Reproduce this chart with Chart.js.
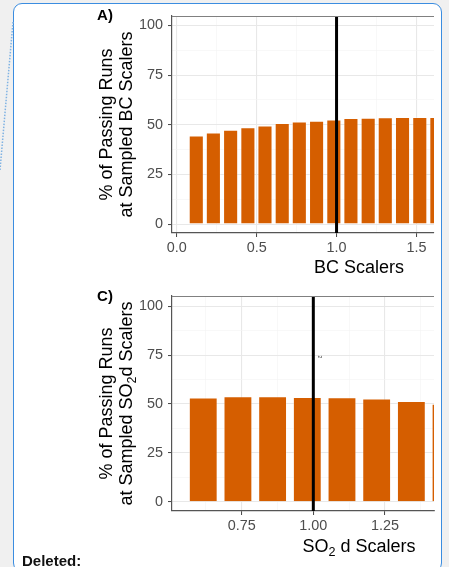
<!DOCTYPE html>
<html>
<head>
<meta charset="utf-8">
<script src="https://cdn.jsdelivr.net/npm/chart.js@4.4.1/dist/chart.umd.min.js"></script>
<style>
  html, body { margin: 0; padding: 0; width: 449px; height: 567px; overflow: hidden; background: #f0f0f0; }
  #frame { position: absolute; left: 13px; top: 3px; width: 429px; height: 569px; box-sizing: border-box;
           background: #fff; border: 1.5px solid #3b8de0; border-radius: 9px; }
  #dots { position: absolute; left: 0; top: 0; }
  canvas { position: absolute; left: 0; }
  #chartA { top: 0; }
  #chartC { top: 280px; }
  #deleted { position: absolute; left: 22px; top: 552px; font: bold 15px "Liberation Sans", Arial, sans-serif; color: #111; }
</style>
</head>
<body>
<div id="frame"></div>
<svg id="dots" width="449" height="567"><line x1="13" y1="22" x2="0" y2="170" stroke="#7fb2e3" stroke-width="1.5" stroke-dasharray="1.5 1.5"/></svg>
<canvas id="chartA" width="449" height="280"></canvas>
<canvas id="chartC" width="449" height="287"></canvas>
<div id="deleted">Deleted:</div>
<script>
// panel A - BC scalers
var bcScalers = [0.122, 0.229, 0.337, 0.445, 0.552, 0.660, 0.767, 0.875, 0.983, 1.090, 1.198, 1.305, 1.413, 1.521, 1.628];
var bcPassing = [44.5, 46.0, 47.4, 48.7, 49.6, 50.8, 51.6, 51.9, 52.6, 53.3, 53.5, 53.7, 53.8, 53.8, 53.8];
var bcTicks = [0, 0.5, 1, 1.5];
var bcTickLabels = ['0.0', '0.5', '1.0', '1.5'];

// panel C - SO2 d scalers
var so2Scalers = [0.616, 0.737, 0.858, 0.979, 1.100, 1.221, 1.342, 1.463];
var so2Passing = [53.2, 53.9, 53.9, 53.5, 53.4, 52.7, 51.5, 50.0];
var so2Ticks = [0.75, 1, 1.25];
var so2TickLabels = ['0.75', '1.00', '1.25'];

var pctTicks = [0, 25, 50, 75, 100];
var pctTickLabels = ['0', '25', '50', '75', '100'];
var defaultScaler = 1.0;

var FONT = '"Liberation Sans", Arial, Helvetica, sans-serif';
var BAR = '#D55E00';

function isMajor(v, list) {
    return list.some(function (t) { return Math.abs(t - v) < 1e-9; });
}
function labelFor(v, list, labels) {
    for (var i = 0; i < list.length; i++) {
        if (Math.abs(list[i] - v) < 1e-9) return labels[i];
    }
    return '';
}

// text with _{sub} parts, centred at (x,y), optionally rotated
function drawRich(ctx, str, x, y, rot, size) {
    var parts = str.split(/_\{(.*?)\}/);
    ctx.save();
    ctx.translate(x, y);
    ctx.rotate(rot);
    ctx.textBaseline = 'middle';
    ctx.textAlign = 'left';
    var total = 0, widths = [];
    parts.forEach(function (p, i) {
        ctx.font = (i % 2 ? size * 0.7 : size) + 'px ' + FONT;
        widths[i] = ctx.measureText(p).width;
        total += widths[i];
    });
    var cx = -total / 2;
    parts.forEach(function (p, i) {
        ctx.font = (i % 2 ? size * 0.7 : size) + 'px ' + FONT;
        ctx.fillText(p, cx, i % 2 ? size * 0.3 : 0);
        cx += widths[i];
    });
    ctx.restore();
}

var panelDecor = {
    id: 'panelDecor',
    afterDatasetsDraw: function (chart, args, opts) {
        var ctx = chart.ctx, a = chart.chartArea;
        var px = chart.scales.x.getPixelForValue(defaultScaler);
        ctx.save();
        ctx.strokeStyle = '#000';
        ctx.lineWidth = 3;
        ctx.beginPath();
        ctx.moveTo(px, a.top);
        ctx.lineTo(px, a.bottom);
        ctx.stroke();
        ctx.strokeStyle = '#808080';
        ctx.lineWidth = 1.2;
        ctx.beginPath();
        ctx.moveTo(a.left, a.top + 0.5);
        ctx.lineTo(a.right, a.top + 0.5);
        ctx.stroke();
        ctx.restore();
    },
    afterDraw: function (chart, args, opts) {
        var ctx = chart.ctx, a = chart.chartArea;
        var mid = (a.top + a.bottom) / 2;
        ctx.save();
        ctx.fillStyle = '#000';
        ctx.font = 'bold 15px ' + FONT;
        ctx.textAlign = 'center';
        ctx.textBaseline = 'middle';
        ctx.fillText(opts.tag, opts.tagX, opts.tagY);
        drawRich(ctx, opts.yTitle[0], 106.7, mid, -Math.PI / 2, 18);
        drawRich(ctx, opts.yTitle[1], 126.7, mid, -Math.PI / 2, 18);
        drawRich(ctx, opts.xTitle, 359, opts.xTitleY, 0, 18);
        if (opts.stray) {
            ctx.fillStyle = '#444';
            ctx.font = '5px ' + FONT;
            ctx.translate(opts.stray[0], opts.stray[1]);
            ctx.rotate(Math.PI / 2);
            ctx.fillText('2', 0, 0);
        }
        ctx.restore();
    }
};

function makePanel(id, xs, ys, xMin, xMax, xStep, xTicks, xTickLabels, yMin, yMax, xHeight, barPct, deco) {
    return new Chart(document.getElementById(id), {
        type: 'bar',
        data: {
            datasets: [{
                data: xs.map(function (x, i) { return { x: x, y: ys[i] }; }),
                backgroundColor: BAR,
                borderColor: 'rgba(255,255,255,0.45)',
                borderWidth: 0.8,
                barPercentage: barPct,
                categoryPercentage: 1,
                clip: 0
            }]
        },
        options: {
            responsive: false,
            animation: false,
            layout: { padding: { top: 16, right: 15, left: 0, bottom: 0 } },
            plugins: {
                legend: { display: false },
                tooltip: { enabled: false },
                panelDecor: deco
            },
            scales: {
                x: {
                    type: 'linear',
                    min: xMin,
                    max: xMax,
                    offset: false,
                    grid: {
                        offset: false,
                        color: function (c) { return isMajor(c.tick.value, xTicks) ? '#e8e8e8' : '#f3f3f3'; },
                        lineWidth: function (c) { return isMajor(c.tick.value, xTicks) ? 1.1 : 0.6; },
                        tickColor: function (c) { return isMajor(c.tick.value, xTicks) ? '#444' : 'rgba(0,0,0,0)'; },
                        tickWidth: 1,
                        tickLength: 4
                    },
                    border: { display: true, color: '#555', width: 1.2 },
                    ticks: {
                        stepSize: xStep,
                        includeBounds: false,
                        autoSkip: false,
                        maxRotation: 0,
                        padding: 2,
                        color: '#4d4d4d',
                        font: { family: FONT, size: 14.4 },
                        callback: function (v) { return labelFor(v, xTicks, xTickLabels); }
                    },
                    afterFit: function (s) { s.height = xHeight; }
                },
                y: {
                    min: yMin,
                    max: yMax,
                    grid: {
                        color: function (c) { return isMajor(c.tick.value, pctTicks) ? '#e8e8e8' : '#f3f3f3'; },
                        lineWidth: function (c) { return isMajor(c.tick.value, pctTicks) ? 1.1 : 0.6; },
                        tickColor: function (c) { return isMajor(c.tick.value, pctTicks) ? '#444' : 'rgba(0,0,0,0)'; },
                        tickWidth: 1,
                        tickLength: 4
                    },
                    border: { display: true, color: '#555', width: 1.2 },
                    ticks: {
                        stepSize: 12.5,
                        includeBounds: false,
                        autoSkip: false,
                        padding: 5,
                        color: '#4d4d4d',
                        font: { family: FONT, size: 14.4 },
                        callback: function (v) { return labelFor(v, pctTicks, pctTickLabels); }
                    },
                    afterFit: function (s) { s.width = 172; }
                }
            }
        },
        plugins: [panelDecor]
    });
}

makePanel('chartA', bcScalers, bcPassing, -0.03, 1.61, 0.25, bcTicks, bcTickLabels, -4.5, 104.8, 47, 0.86, {
    tag: 'A)', tagX: 105, tagY: 16,
    yTitle: ['% of Passing Runs', 'at Sampled BC Scalers'],
    xTitle: 'BC Scalers', xTitleY: 268
});

makePanel('chartC', so2Scalers, so2Passing, 0.507, 1.421, 0.125, so2Ticks, so2TickLabels, -4.75, 105.3, 56, 0.82, {
    tag: 'C)', tagX: 105, tagY: 17,
    yTitle: ['% of Passing Runs', 'at Sampled SO_{2}d Scalers'],
    xTitle: 'SO_{2} d Scalers', xTitleY: 267,
    stray: [319, 77]
});
</script>
</body>
</html>
